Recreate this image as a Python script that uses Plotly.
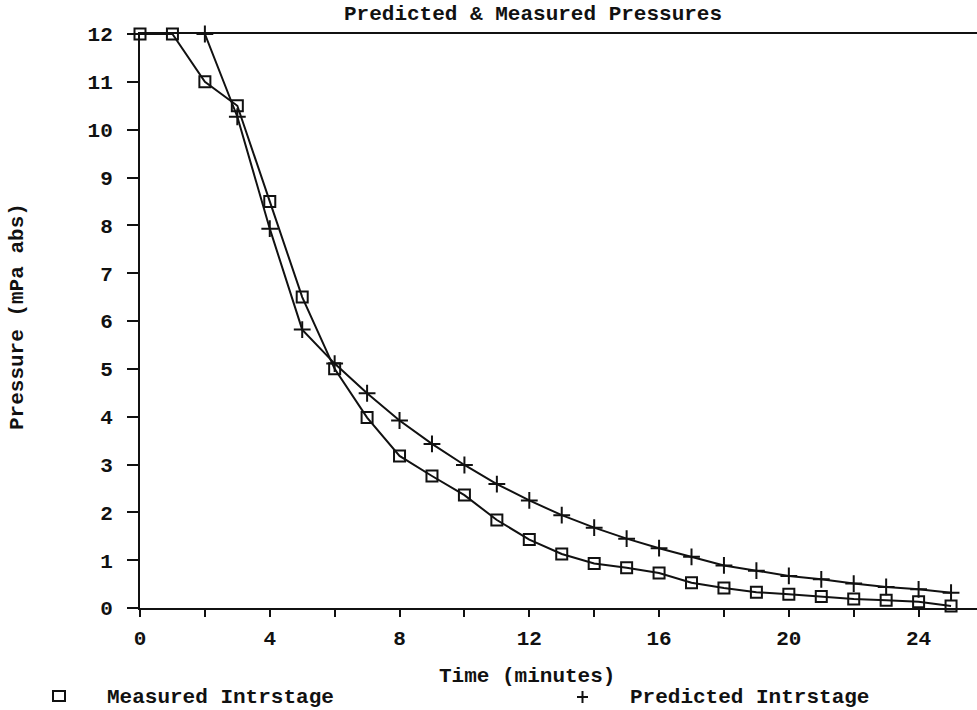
import plotly.graph_objects as go

# Time in minutes
time_measured = list(range(0, 26))
time_predicted = list(range(2, 26))

# Interstage pressure, mPa abs
measured = [12.0, 12.0, 11.0, 10.5, 8.5, 6.5, 5.0, 3.98, 3.18, 2.76, 2.36, 1.84,
            1.43, 1.13, 0.93, 0.84, 0.73, 0.53, 0.42, 0.33, 0.29, 0.24, 0.19,
            0.16, 0.13, 0.04]
predicted = [12.0, 10.27, 7.93, 5.82, 5.11, 4.49, 3.92, 3.43, 2.99, 2.59, 2.25,
             1.94, 1.68, 1.45, 1.25, 1.07, 0.89, 0.78, 0.67, 0.6, 0.51, 0.44,
             0.39, 0.32]

x_labelled = [0, 4, 8, 12, 16, 20, 24]
x_tickvals = list(range(0, 26, 2))
y_ticks = list(range(0, 13))

FONT = "Liberation Mono"
INK = "#111111"
TXT = dict(family=FONT, size=21, color=INK, weight="bold")

# plot area in pixels
L, R, T, B = 140, 977, 34, 608
W, H = R - L, B - T


def px(x):
    return (x - L) / W


def py(y):
    return (B - y) / H


fig = go.Figure()
fig.add_trace(go.Scatter(
    x=time_measured, y=measured, mode="lines+markers", name="Measured Intrstage",
    line=dict(color=INK, width=2),
    marker=dict(symbol="square-open", size=11, color=INK, line=dict(width=2)),
    cliponaxis=False,
))
fig.add_trace(go.Scatter(
    x=time_predicted, y=predicted, mode="lines+markers", name="Predicted Intrstage",
    line=dict(color=INK, width=2),
    marker=dict(symbol="cross-thin", size=12, color=INK, line=dict(width=2, color=INK)),
    cliponaxis=False,
))

fig.update_layout(
    width=977, height=710,
    margin=dict(l=L, r=977 - R, t=T, b=710 - B),
    paper_bgcolor="white", plot_bgcolor="white",
    showlegend=False,
    font=TXT,
    xaxis=dict(
        range=[0, 25.8], showgrid=False, zeroline=False,
        showline=True, linecolor=INK, linewidth=2, mirror=True,
        tickmode="array", tickvals=x_tickvals,
        ticktext=[str(v) if v in x_labelled else "" for v in x_tickvals],
        ticks="outside", ticklen=7, tickwidth=2, tickcolor=INK,
        tickfont=TXT, ticklabelstandoff=3,
    ),
    yaxis=dict(
        range=[0, 12], showgrid=False, zeroline=False,
        showline=True, linecolor=INK, linewidth=2,
        tickmode="array", tickvals=y_ticks,
        ticks="outside", ticklen=11, tickwidth=2, tickcolor=INK,
        tickfont=TXT, ticklabelstandoff=10,
    ),
)


def label(text, x, y, anchor="center", angle=0):
    fig.add_annotation(
        text=text, xref="paper", yref="paper", x=px(x), y=py(y),
        xanchor=anchor, yanchor="middle", textangle=angle,
        showarrow=False, font=TXT,
    )


label("Predicted & Measured Pressures", 533, 15)
label("Time (minutes)", 527, 676)
label("Pressure (mPa abs)", 18, 317, angle=-90)

# Legend row along the bottom edge: open square and plus symbols, then names
fig.add_shape(
    type="rect", xref="paper", yref="paper",
    x0=px(53), x1=px(65), y0=py(701), y1=py(691),
    line=dict(color=INK, width=2), fillcolor="rgba(0,0,0,0)",
)
for x0, y0, x1, y1 in [(577, 697, 588, 697), (582.5, 691, 582.5, 703)]:
    fig.add_shape(
        type="line", xref="paper", yref="paper",
        x0=px(x0), x1=px(x1), y0=py(y0), y1=py(y1),
        line=dict(color=INK, width=2),
    )
label("Measured Intrstage", 105, 697, anchor="left")
label("Predicted Intrstage", 628, 697, anchor="left")

fig.write_html("out.html")
